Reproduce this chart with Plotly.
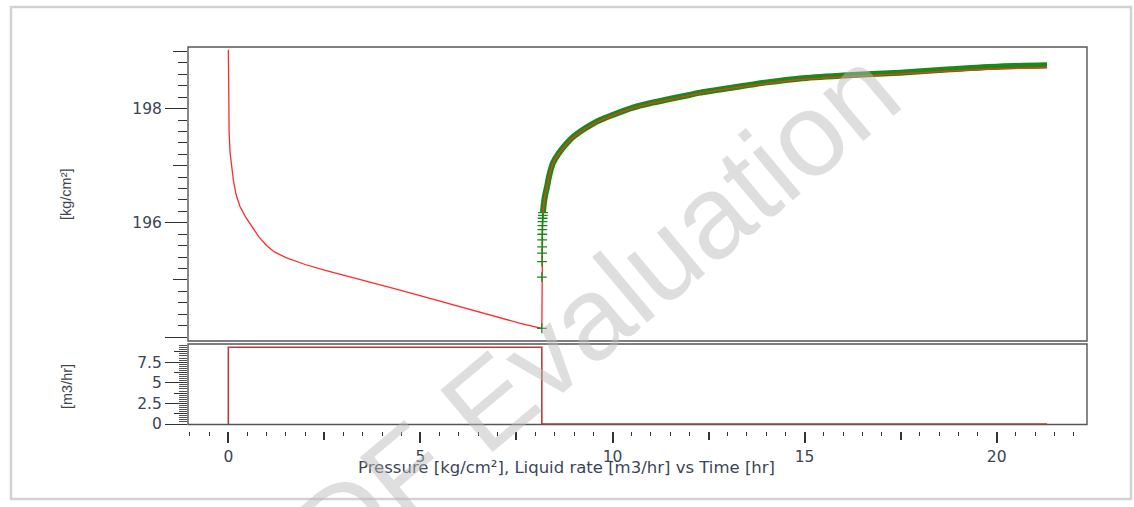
import plotly.graph_objects as go

# ---------------- data ----------------
# model pressure, drawdown period (time hr, pressure kg/cm2)
t_model_dd = [0, 0.002, 0.005, 0.01, 0.02, 0.045, 0.13, 0.2, 0.3, 0.45, 0.66, 0.8, 1.0, 1.2,
              1.5, 2.0, 2.5, 3.09, 3.6, 4.2, 4.8, 5.4, 6.0, 6.55, 7.1, 7.6, 8.16]
p_model_dd = [199.03, 198.6, 198.2, 197.9, 197.6, 197.23, 196.75, 196.5, 196.29, 196.1, 195.88,
              195.75, 195.6, 195.49, 195.39, 195.27, 195.17, 195.07, 194.98, 194.87, 194.76,
              194.65, 194.53, 194.43, 194.33, 194.24, 194.15]
# model pressure, build-up period
t_model_bu = [8.161, 8.165, 8.17, 8.18, 8.19, 8.22, 8.25, 8.295, 8.35, 8.45, 8.6, 8.815, 9.0,
              9.23, 9.45, 9.675, 10.0, 10.53, 11.0, 11.42, 12.0, 12.28, 13.14, 14.02, 14.88,
              16.0, 17.48, 18.8, 20.08, 21.31]
p_model_bu = [195.1, 195.5, 195.8, 196.05, 196.17, 196.37, 196.5, 196.62, 196.81, 197.04, 197.21,
              197.39, 197.51, 197.62, 197.71, 197.79, 197.88, 198.01, 198.09, 198.15, 198.23,
              198.27, 198.36, 198.44, 198.51, 198.56, 198.61, 198.66, 198.70, 198.72]

# measured build-up pressure
t_meas = [8.16, 8.162, 8.164, 8.166, 8.168, 8.17, 8.172, 8.174, 8.176, 8.178, 8.18, 8.185,
          8.19, 8.2, 8.22, 8.25, 8.295, 8.35, 8.45, 8.6, 8.815, 9.0, 9.23, 9.45, 9.675, 10.0,
          10.53, 11.0, 11.42, 12.0, 12.28, 13.14, 14.02, 14.88, 16.0, 17.48, 18.8, 20.08, 21.31]
p_meas = [194.15, 195.05, 195.32, 195.47, 195.58, 195.70, 195.80, 195.88, 195.95, 196.02,
          196.08, 196.13, 196.18, 196.26, 196.38, 196.50, 196.63, 196.82, 197.05, 197.22,
          197.40, 197.52, 197.63, 197.72, 197.80, 197.89, 198.02, 198.10, 198.16, 198.24,
          198.28, 198.37, 198.46, 198.53, 198.58, 198.63, 198.69, 198.74, 198.76]
dense_start = 12  # index where the measured points merge into a continuous band

# liquid rate history (step)
t_rate = [0, 0, 8.16, 21.31]
q_rate = [0, 9.3, 0, 0]

# axis ticks
x_major = [0, 5, 10, 15, 20]
x_medium = [2.5, 7.5, 12.5, 17.5]
p_major = [194, 196, 198]
p_major_text = ["", "196", "198"]
p_medium = [195, 197, 199]
q_major = [0, 2.5, 5, 7.5]
q_major_text = ["0", "2.5", "5", "7.5"]
q_medium = [1.25, 3.75, 6.25, 8.75]

x_title = "Pressure [kg/cm²], Liquid rate [m3/hr] vs Time [hr]"
p_title = "[kg/cm²]"
q_title = "[m3/hr]"
watermark = "PDF Evaluation"

# ---------------- layout geometry (pixels) ----------------
W, H = 1134, 507
ML, MR, MT, MB = 188, 47, 47, 76
PW, PH = W - ML - MR, H - MT - MB


def px(xpix):
    return (xpix - ML) / PW


def py(ypix):
    return (H - MB - ypix) / PH


top_dom = [py(341), 1.0]
bot_dom = [py(424.5), py(344)]
x_range = [-1.05, 22.35]
p_range = [193.93, 199.08]
q_range = [-0.06, 9.7]

FONT = "DejaVu Sans"
LABEL_COL = "#3d4555"
TICK_COL = "#333333"
GREEN = "#178a17"

fig = go.Figure()

# model (red)
fig.add_trace(go.Scatter(x=t_model_dd + t_model_bu, y=p_model_dd + p_model_bu,
                         mode="lines", line=dict(color="#ff2a2a", width=1.3),
                         xaxis="x", yaxis="y", showlegend=False, hoverinfo="skip"))
# measured band (dense part)
fig.add_trace(go.Scatter(x=t_meas[dense_start:], y=p_meas[dense_start:], mode="lines",
                         line=dict(color=GREEN, width=6, shape="spline", smoothing=0.8),
                         xaxis="x", yaxis="y", showlegend=False, hoverinfo="skip"))
# measured markers (sparse early part)
fig.add_trace(go.Scatter(x=t_meas[:dense_start + 1], y=p_meas[:dense_start + 1], mode="markers",
                         marker=dict(symbol="cross-thin", size=7,
                                     line=dict(color=GREEN, width=1.3)),
                         xaxis="x", yaxis="y", showlegend=False, hoverinfo="skip"))
# model on top of measured
fig.add_trace(go.Scatter(x=t_model_bu[4:], y=p_model_bu[4:], mode="lines",
                         line=dict(color="#e0401a", width=1.5, shape="spline", smoothing=0.8),
                         xaxis="x", yaxis="y", showlegend=False, hoverinfo="skip"))
# rate
fig.add_trace(go.Scatter(x=t_rate, y=q_rate, mode="lines", line_shape="hv",
                         line=dict(color="#b83c3c", width=1.6),
                         xaxis="x2", yaxis="y2", showlegend=False, hoverinfo="skip"))
# dummy traces for overlay tick axes
fig.add_trace(go.Scatter(x=[None], y=[None], xaxis="x3", yaxis="y2", showlegend=False))
fig.add_trace(go.Scatter(x=[None], y=[None], xaxis="x", yaxis="y3", showlegend=False))
fig.add_trace(go.Scatter(x=[None], y=[None], xaxis="x2", yaxis="y4", showlegend=False))

common = dict(showgrid=False, zeroline=False, showline=False)
tickfont = dict(family=FONT, size=15.5, color=LABEL_COL)

fig.update_layout(
    width=W, height=H,
    margin=dict(l=ML, r=MR, t=MT, b=MB, autoexpand=False),
    paper_bgcolor="white", plot_bgcolor="white",
    xaxis=dict(domain=[0, 1], anchor="y", range=x_range, showticklabels=False, ticks="", **common),
    xaxis2=dict(domain=[0, 1], anchor="free", position=0, range=x_range,
                tickmode="array", tickvals=x_major, ticks="outside", ticklen=11, tickwidth=1.6,
                tickcolor=TICK_COL, tickfont=tickfont,
                minor=dict(dtick=0.5, tick0=0, ticks="outside", ticklen=4, tickwidth=1.3,
                           tickcolor=TICK_COL),
                **common),
    xaxis3=dict(overlaying="x2", anchor="free", position=0, range=x_range,
                tickmode="array", tickvals=x_medium, ticks="outside", ticklen=8, tickwidth=1.5,
                tickcolor=TICK_COL, showticklabels=False, **common),
    yaxis=dict(domain=top_dom, anchor="x", range=p_range, tickmode="array",
               tickvals=p_major, ticktext=p_major_text, ticks="outside", ticklen=22,
               tickwidth=1.4, tickcolor=TICK_COL, tickfont=tickfont,
               minor=dict(dtick=0.2, tick0=194, ticks="outside", ticklen=9, tickwidth=1.2,
                          tickcolor=TICK_COL),
               **common),
    yaxis3=dict(overlaying="y", anchor="x", side="left", range=p_range, tickmode="array",
                tickvals=p_medium, ticks="outside", ticklen=14, tickwidth=1.3,
                tickcolor=TICK_COL, showticklabels=False, **common),
    yaxis2=dict(domain=bot_dom, anchor="x2", range=q_range, tickmode="array",
                tickvals=q_major, ticktext=q_major_text, ticks="outside", ticklen=22,
                tickwidth=1.4, tickcolor=TICK_COL, tickfont=tickfont,
                minor=dict(dtick=0.25, tick0=0, ticks="outside", ticklen=8, tickwidth=1,
                           tickcolor="#555555"),
                **common),
    yaxis4=dict(overlaying="y2", anchor="x2", side="left", range=q_range, tickmode="array",
                tickvals=q_medium, ticks="outside", ticklen=13, tickwidth=1.2,
                tickcolor=TICK_COL, showticklabels=False, **common),
)

shapes = []
# page frame
shapes.append(dict(type="rect", xref="paper", yref="paper",
                   x0=px(11), x1=px(1131), y0=py(499), y1=py(7),
                   line=dict(color="#d2d2d2", width=2.5), layer="below"))
# panel frames
for xr, yr in (("x domain", "y domain"), ("x2 domain", "y2 domain")):
    shapes.append(dict(type="rect", xref=xr, yref=yr, x0=0, x1=1, y0=0, y1=1,
                       line=dict(color="#555555", width=1.4), layer="below"))
fig.update_layout(shapes=shapes)

annotations = [
    dict(text=x_title, xref="paper", yref="paper", x=px(566), y=py(467),
         xanchor="center", yanchor="middle", showarrow=False,
         font=dict(family=FONT, size=16.5, color=LABEL_COL)),
    dict(text=p_title, xref="paper", yref="paper", x=px(66), y=py(194),
         xanchor="center", yanchor="middle", showarrow=False, textangle=-90,
         font=dict(family="Liberation Sans", size=14.5, color=LABEL_COL)),
    dict(text=q_title, xref="paper", yref="paper", x=px(67), y=py(387),
         xanchor="center", yanchor="middle", showarrow=False, textangle=-90,
         font=dict(family="Liberation Sans", size=14.5, color=LABEL_COL)),
    dict(text=watermark, xref="paper", yref="paper", x=px(567), y=py(336),
         xanchor="center", yanchor="middle", showarrow=False, textangle=-40,
         font=dict(family="Liberation Sans", size=118, color="rgba(185,185,185,0.48)")),
]
fig.update_layout(annotations=annotations)

fig.write_html("out.html", config={"displayModeBar": False},
               post_script="document.body.style.margin='0px';")
